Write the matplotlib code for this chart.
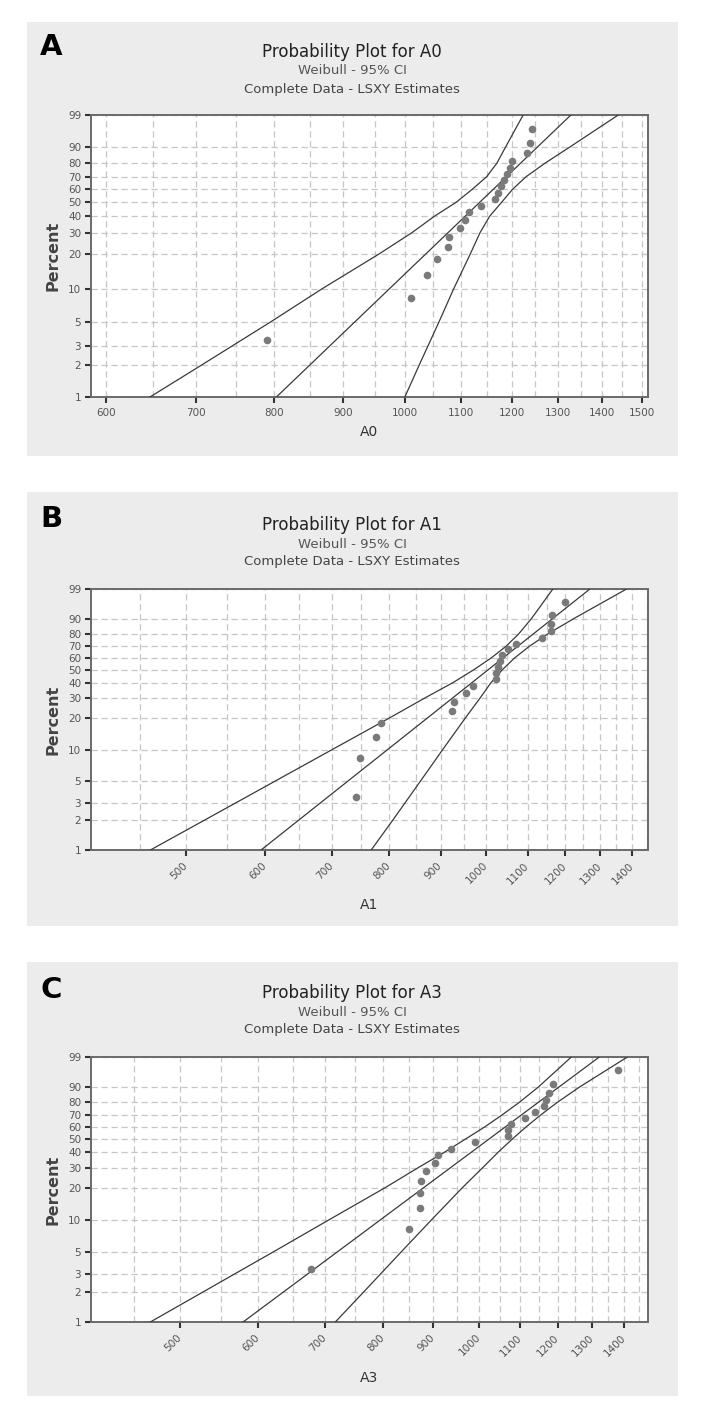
import numpy as np
import matplotlib
matplotlib.use("Agg")
import matplotlib.pyplot as plt
from matplotlib.patches import Rectangle
from matplotlib.ticker import NullFormatter

# plotting positions (percent) of the 20 specimens, same in each panel
pct = [3.4, 8.3, 13.2, 18.1, 23.0, 27.9, 32.8, 37.7, 42.6, 47.5,
       52.5, 57.4, 62.3, 67.2, 72.1, 77.0, 81.9, 86.8, 91.7, 96.6]

a0 = [790, 1010, 1039, 1057, 1076, 1078, 1099, 1108, 1116, 1138,
      1167, 1172, 1178, 1185, 1191, 1197, 1200, 1232, 1239, 1243]
a1 = [741, 748, 776, 784, 924, 929, 954, 969, 1022, 1022,
      1028, 1033, 1038, 1052, 1072, 1136, 1161, 1161, 1163, 1200]
a3 = [677, 851, 873, 873, 875, 884, 903, 910, 938, 992,
      1070, 1070, 1078, 1113, 1140, 1162, 1169, 1176, 1187, 1380]

# fitted weibull line (value at 1% and 99%)
fit_pct = [1, 99]
fit_a0 = [803, 1328]
fit_a1 = [595, 1270]
fit_a3 = [579, 1322]

# 95% CI curves read at these percents
ci_pct = [1, 2, 5, 10, 20, 30, 40, 50, 60, 70, 80, 90, 99]
lo_a0 = [647, 707, 795, 868, 956, 1012, 1052, 1092, 1122, 1150, 1170, 1188, 1224]
hi_a0 = [1000, 1025, 1060, 1087, 1118, 1137, 1156, 1180, 1202, 1230, 1270, 1326, 1440]
lo_a1 = [461, 522, 616, 700, 800, 868, 926, 972, 1012, 1047, 1078, 1110, 1166]
hi_a1 = [767, 806, 860, 904, 953, 986, 1011, 1038, 1068, 1105, 1153, 1224, 1382]
lo_a3 = [467, 528, 622, 705, 804, 869, 924, 970, 1014, 1055, 1098, 1148, 1239]
hi_a3 = [717, 766, 836, 895, 962, 1009, 1046, 1081, 1116, 1154, 1199, 1263, 1411]

y_ticks = [1, 2, 3, 5, 10, 20, 30, 40, 50, 60, 70, 80, 90, 99]
x_ticks_a = [600, 700, 800, 900, 1000, 1100, 1200, 1300, 1400, 1500]
x_ticks_bc = [500, 600, 700, 800, 900, 1000, 1100, 1200, 1300, 1400]

W, H = 708, 1416


def fwd(p):
    p = np.clip(np.asarray(p, dtype=float), 1e-6, 100 - 1e-6)
    return np.log(-np.log(1 - p / 100.0))


def inv(t):
    return 100.0 * (1 - np.exp(-np.exp(t)))


def fx(px):
    return px / W


def fy(py):
    return 1 - py / H


fig = plt.figure(figsize=(W / 100, H / 100), dpi=100)
fig.patch.set_facecolor('white')

# panel: letter, var, data, fit, lo, hi, xticks, xlim, rotate,
#        panel top, plot top, plot bottom, title y, xlabel y, letter y
panels = [
    ("A", "A0", a0, fit_a0, lo_a0, hi_a0, x_ticks_a, (585, 1515), False,
     22, 115, 397, 52, 432, 47),
    ("B", "A1", a1, fit_a1, lo_a1, hi_a1, x_ticks_bc, (402, 1452), True,
     492, 589, 850, 525, 905, 519),
    ("C", "A3", a3, fit_a3, lo_a3, hi_a3, x_ticks_bc, (407, 1480), True,
     962, 1057, 1322, 993, 1378, 990),
]

for (letter, var, xs, fit, lo, hi, xt, xl, rot,
     ptop, atop, abot, ty, xly, ly) in panels:
    fig.patches.append(Rectangle((fx(27), fy(ptop + 434)), fx(651), 434 / H,
                                 transform=fig.transFigure, facecolor='#ececec',
                                 edgecolor='none', zorder=-10))

    ax = fig.add_axes([fx(91), fy(abot), fx(648 - 91), (abot - atop) / H])
    ax.set_facecolor('white')
    ax.set_xscale('log')
    ax.set_yscale('function', functions=(fwd, inv))
    ax.set_ylim(1, 99)

    ax.set_yticks(y_ticks)
    ax.set_yticklabels([str(v) for v in y_ticks])
    ax.set_xticks(xt)
    ax.xaxis.set_minor_formatter(NullFormatter())
    ax.set_xticks(np.arange(450, 1501, 50), minor=True)
    ax.set_xlim(*xl)
    if rot:
        ax.set_xticklabels([str(v) for v in xt], rotation=45, ha='right',
                           va='center', rotation_mode='anchor')
    else:
        ax.set_xticklabels([str(v) for v in xt])

    ax.tick_params(axis='both', which='major', direction='out', length=4,
                   width=1.5, color='#333333', labelcolor='#555555',
                   labelsize=7.5, pad=3)
    ax.tick_params(axis='x', which='major', pad=4 if not rot else 6)
    ax.tick_params(which='minor', length=0)

    ax.grid(True, axis='y', which='major', color='#c6c6c6',
            linestyle=(0, (5, 3)), linewidth=0.9)
    ax.grid(True, axis='x', which='both', color='#c6c6c6',
            linestyle=(0, (5, 3)), linewidth=0.9)
    ax.set_axisbelow(True)

    for s in ax.spines.values():
        s.set_color('#6a6a6a')
        s.set_linewidth(1.4)

    ax.plot(lo, ci_pct, color='#3a3a3a', lw=0.9, zorder=3)
    ax.plot(hi, ci_pct, color='#3a3a3a', lw=0.9, zorder=3)
    ax.plot(fit, fit_pct, color='#3a3a3a', lw=0.9, zorder=3)
    ax.plot(xs, pct, 'o', color='#7a7a7a', markersize=5.5,
            markeredgewidth=0, zorder=4)

    fig.text(fx(40), fy(ly), letter, fontsize=21, fontweight='bold',
             color='black', ha='left', va='center')
    fig.text(fx(352), fy(ty), "Probability Plot for " + var, fontsize=12,
             color='#222222', ha='center', va='center')
    fig.text(fx(352), fy(ty + 19), "Weibull - 95% CI", fontsize=9.5,
             color='#555555', ha='center', va='center')
    fig.text(fx(352), fy(ty + 37), "Complete Data - LSXY Estimates",
             fontsize=9.5, color='#444444', ha='center', va='center')
    fig.text(fx(53), fy((atop + abot) / 2), "Percent", fontsize=11.5,
             fontweight='bold', color='#444444', rotation=90,
             ha='center', va='center')
    fig.text(fx(369), fy(xly), var, fontsize=10, color='#333333',
             ha='center', va='center')

fig.savefig('out.png', dpi=100)
